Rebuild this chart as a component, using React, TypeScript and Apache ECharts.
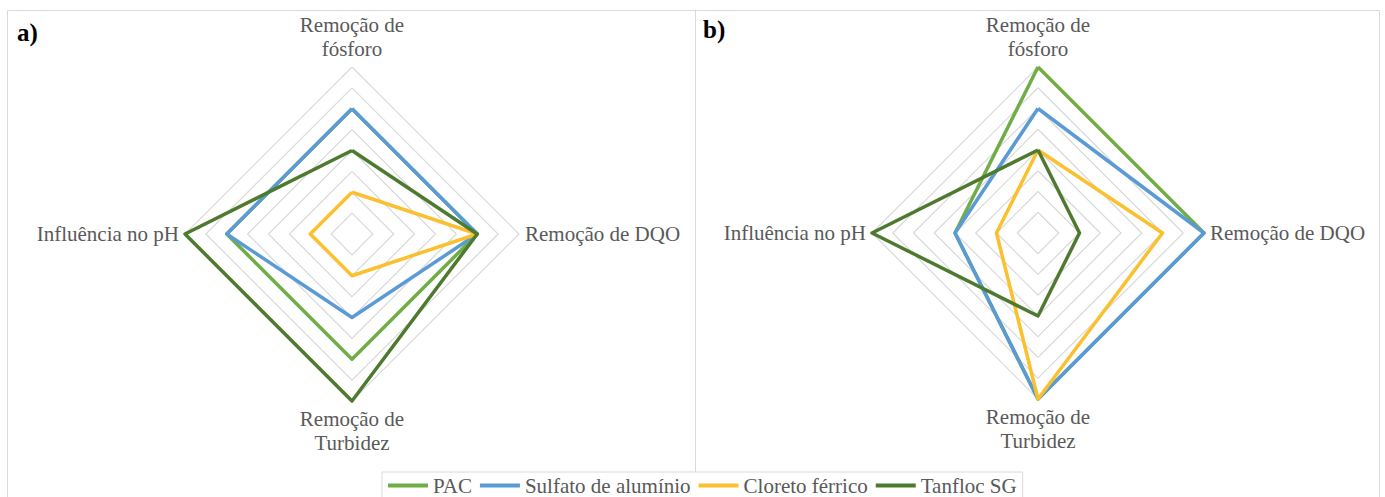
import React, { useEffect, useRef } from "react";
import * as echarts from "echarts";

const indicators = ["Remoção de\nfósforo", "Influência no pH", "Remoção de\nTurbidez", "Remoção de DQO"];
const seriesNames = ["PAC", "Sulfato de alumínio", "Cloreto férrico", "Tanfloc SG"];
const seriesColors = ["#70AD47", "#5B9BD5", "#FBC02D", "#4E7A30"];
// values in indicator order: fósforo, pH, Turbidez, DQO
const valuesA = [
  [6, 6, 6, 6],
  [6, 6, 4, 6],
  [2, 2, 2, 6],
  [4, 8, 8, 6],
];
const valuesB = [
  [8, 4, 8, 8],
  [6, 4, 8, 8],
  [4, 2, 8, 6],
  [4, 8, 4, 2],
];
const axisMax = 8;
const panelLabels = ["a)", "b)"];

const FONT = "'Liberation Serif', 'Times New Roman', serif";

export default function App() {
  const ref = useRef<HTMLDivElement>(null);
  useEffect(() => {
    if (!ref.current) return;
    const chart = echarts.init(ref.current, undefined, { renderer: "svg" });
    const radarCommon = {
      shape: "polygon",
      startAngle: 90,
      splitNumber: 8,
      indicator: indicators.map((n) => ({ name: n, min: 0, max: axisMax })),
      axisName: { color: "#595959", fontSize: 21, fontFamily: FONT, lineHeight: 24 },
      nameGap: 6,
      axisLine: { show: false },
      axisTick: { show: false },
      axisLabel: { show: false },
      splitArea: { show: false },
      splitLine: { lineStyle: { color: "#D9D9D9", width: 1.2 } },
    };
    const mk = (vals: number[][], idx: number) => ({
      type: "radar",
      radarIndex: idx,
      symbol: "none",
      data: vals.map((v, i) => ({
        name: seriesNames[i],
        value: v,
        itemStyle: { color: seriesColors[i] },
        lineStyle: { color: seriesColors[i], width: 3.5 },
      })),
    });
    chart.setOption({
      animation: false,
      backgroundColor: "#ffffff",
      radar: [
        { ...radarCommon, center: [352, 234], radius: 167 },
        { ...radarCommon, center: [1038, 233], radius: 166 },
      ],
      legend: {
        data: seriesNames,
        left: 382,
        top: 472,
        icon: "rect",
        itemWidth: 40,
        itemHeight: 4,
        itemGap: 8,
        padding: [3, 6, 12, 6],
        borderColor: "#D9D9D9",
        borderWidth: 1,
        textStyle: { color: "#595959", fontSize: 21, fontFamily: FONT },
      },
      graphic: [
        {
          type: "rect",
          shape: { x: 7.5, y: 10.5, width: 1372, height: 500 },
          style: { fill: "none", stroke: "#D9D9D9", lineWidth: 1 },
          silent: true,
        },
        {
          type: "line",
          shape: { x1: 695.5, y1: 10, x2: 695.5, y2: 472 },
          style: { stroke: "#D9D9D9", lineWidth: 1 },
          silent: true,
        },
        {
          type: "text",
          x: 17,
          y: 20,
          style: { text: panelLabels[0], fill: "#000", font: `bold 25px ${FONT}` },
        },
        {
          type: "text",
          x: 703,
          y: 17,
          style: { text: panelLabels[1], fill: "#000", font: `bold 25px ${FONT}` },
        },
      ],
      series: [mk(valuesA, 0), mk(valuesB, 1)],
    });
    return () => chart.dispose();
  }, []);
  return (
    <div
      ref={ref}
      style={{ position: "fixed", left: 0, top: 0, width: 1385, height: 497, background: "#fff" }}
    />
  );
}
